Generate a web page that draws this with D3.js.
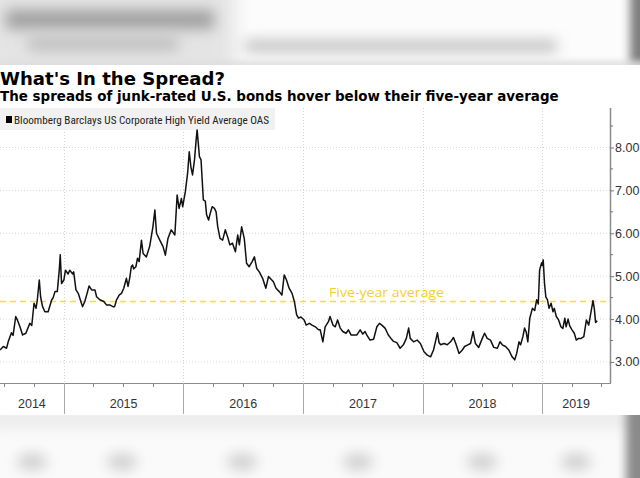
<!DOCTYPE html>
<html><head><meta charset="utf-8">
<script src="https://cdn.jsdelivr.net/npm/d3@7"></script>
<style>html,body{margin:0;padding:0;background:#fff;}svg{display:block;}</style>
</head><body>
<svg id="chart" width="640" height="478"></svg>
<script>
const dates = ["2014-06-20","2014-06-30","2014-07-10","2014-07-15","2014-07-25","2014-07-30","2014-08-07","2014-08-12","2014-08-20","2014-08-28","2014-09-07","2014-09-19","2014-09-25","2014-10-02","2014-10-08","2014-10-12","2014-10-18","2014-10-22","2014-10-28","2014-11-04","2014-11-14","2014-11-25","2014-11-29","2014-12-05","2014-12-12","2014-12-18","2014-12-21","2014-12-25",
"2015-01-01","2015-01-06","2015-01-14","2015-01-19","2015-01-28","2015-01-31","2015-02-07","2015-02-14","2015-02-19","2015-02-27","2015-03-06","2015-03-13","2015-03-19","2015-03-27","2015-04-06","2015-04-11","2015-04-21","2015-05-03","2015-05-11","2015-05-21","2015-05-31","2015-06-05","2015-06-11","2015-06-19","2015-06-26","2015-07-03","2015-07-11","2015-07-16","2015-07-21","2015-07-26","2015-07-30","2015-08-02","2015-08-09","2015-08-14","2015-08-19","2015-08-26","2015-08-31","2015-09-10","2015-09-20","2015-09-30","2015-10-06","2015-10-11","2015-10-21","2015-10-31","2015-11-07","2015-11-15","2015-11-25","2015-12-06","2015-12-13","2015-12-19","2015-12-26","2015-12-30",
"2016-01-07","2016-01-14","2016-01-19","2016-01-24","2016-01-29","2016-02-04","2016-02-09","2016-02-12","2016-02-16","2016-02-19","2016-02-24","2016-03-02","2016-03-08","2016-03-12","2016-03-18","2016-03-23","2016-03-29","2016-04-05","2016-04-10","2016-04-15","2016-04-22","2016-04-30","2016-05-08","2016-05-15","2016-05-22","2016-05-30","2016-06-08","2016-06-15","2016-06-20","2016-06-27","2016-07-05","2016-07-12","2016-07-20","2016-07-29","2016-08-05","2016-08-12","2016-08-20","2016-08-30","2016-09-09","2016-09-17","2016-09-25","2016-10-02","2016-10-10","2016-10-20","2016-10-28","2016-11-04","2016-11-11","2016-11-19","2016-11-28","2016-12-05","2016-12-12","2016-12-18","2016-12-25",
"2017-01-04","2017-01-10","2017-01-20","2017-01-28","2017-02-07","2017-02-17","2017-02-22","2017-03-02","2017-03-09","2017-03-19","2017-03-24","2017-04-02","2017-04-09","2017-04-16","2017-04-24","2017-05-02","2017-05-12","2017-05-19","2017-05-27","2017-06-04","2017-06-14","2017-06-24","2017-07-02","2017-07-09","2017-07-14","2017-07-24","2017-08-04","2017-08-14","2017-08-22","2017-08-29","2017-09-08","2017-09-18","2017-09-26","2017-10-04","2017-10-14","2017-10-24","2017-11-03","2017-11-12","2017-11-19","2017-11-24","2017-12-04","2017-12-15","2017-12-25",
"2018-01-05","2018-01-15","2018-01-25","2018-02-03","2018-02-10","2018-02-15","2018-02-20","2018-02-25","2018-03-07","2018-03-17","2018-03-27","2018-04-05","2018-04-12","2018-04-22","2018-05-02","2018-05-09","2018-05-19","2018-05-27","2018-06-04","2018-06-11","2018-06-21","2018-07-02","2018-07-09","2018-07-17","2018-07-27","2018-08-06","2018-08-17","2018-08-25","2018-09-01","2018-09-11","2018-09-21","2018-10-01","2018-10-09","2018-10-15","2018-10-22","2018-10-27","2018-11-03","2018-11-08","2018-11-13","2018-11-18","2018-11-24","2018-12-02","2018-12-09","2018-12-15","2018-12-20","2018-12-24","2018-12-30",
"2019-01-01","2019-01-04","2019-01-08","2019-01-12","2019-01-17","2019-01-22","2019-01-28","2019-02-03","2019-02-07","2019-02-13","2019-02-20","2019-02-27","2019-03-05","2019-03-11","2019-03-15","2019-03-21","2019-03-26","2019-04-02","2019-04-09","2019-04-15","2019-04-22","2019-04-30","2019-05-08","2019-05-16","2019-05-23","2019-05-30","2019-06-05","2019-06-09","2019-06-13","2019-06-18"];
const spreads = [3.28,3.36,3.32,3.47,3.68,3.62,4.06,3.98,3.82,3.63,3.67,3.90,3.85,4.37,4.25,4.45,4.91,4.52,4.29,4.17,4.17,4.45,4.49,4.64,4.64,5.14,5.50,4.83,
4.91,5.14,5.05,5.14,5.05,5.10,4.68,4.60,4.48,4.29,4.41,4.60,4.77,4.68,4.68,4.52,4.45,4.41,4.33,4.33,4.29,4.29,4.45,4.56,4.60,4.72,4.95,4.76,4.95,5.22,5.26,5.17,5.22,5.42,5.34,5.84,5.53,5.45,5.69,6.15,6.54,6.00,5.84,5.69,5.49,5.88,6.08,5.96,6.89,6.58,6.81,6.62,
6.97,7.40,7.90,7.55,7.36,7.71,8.17,8.41,8.06,7.79,7.71,6.78,6.75,6.43,6.31,6.46,6.62,6.58,6.50,6.15,5.88,5.84,6.08,5.92,5.73,5.77,5.57,5.96,5.73,6.15,5.88,5.30,5.22,5.34,5.45,5.18,5.10,4.95,4.72,4.99,4.93,4.87,4.72,4.64,4.56,5.03,4.91,4.72,4.60,4.41,4.10,4.02,4.05,
3.98,3.86,3.90,3.86,3.82,3.75,3.75,3.47,3.82,3.94,4.06,3.86,3.82,3.98,3.79,3.71,3.67,3.75,3.63,3.63,3.63,3.75,3.65,3.71,3.63,3.51,3.53,3.82,3.90,3.86,3.79,3.63,3.55,3.48,3.45,3.32,3.40,3.55,3.79,3.55,3.47,3.51,3.43,
3.24,3.16,3.12,3.28,3.51,3.68,3.45,3.40,3.43,3.40,3.47,3.57,3.43,3.20,3.28,3.36,3.40,3.43,3.71,3.43,3.34,3.55,3.67,3.55,3.51,3.34,3.32,3.47,3.40,3.36,3.28,3.12,3.05,3.20,3.47,3.40,3.59,3.79,3.70,3.47,4.02,4.25,4.20,4.45,4.35,5.14,5.31,
5.25,5.38,4.83,4.52,4.45,4.25,4.37,4.17,4.25,4.06,3.98,3.82,3.78,4.02,3.82,4.00,3.84,3.75,3.67,3.51,3.55,3.55,3.59,3.98,3.86,4.17,4.43,4.25,3.92,3.96];
const yearLabels = ["2014","2015","2016","2017","2018","2019"];
const yearStarts = ["2014-06-20","2015-01-01","2016-01-01","2017-01-01","2018-01-01","2019-01-01","2019-07-27"];
const yTicks = [3,4,5,6,7,8];
const fiveYearAvg = 4.41;
const titleText = "What's In the Spread?";
const subtitleText = "The spreads of junk-rated U.S. bonds hover below their five-year average";
const legendText = "Bloomberg Barclays US Corporate High Yield Average OAS";
const avgLabel = "Five-year average";

const parse = d3.timeParse("%Y-%m-%d");
const data = dates.map((d,i)=>({date:parse(d), v:spreads[i]}));

const svg = d3.select("#chart");
const W = 640, H = 478;
const plot = {left:0, right:610, top:108, bottom:383};

const x = d3.scaleTime().domain([parse("2014-06-20"), parse("2019-07-27")]).range([plot.left, plot.right]);
const y = d3.scaleLinear().domain([2.51, 8.92]).range([plot.bottom, plot.top]);

const defs = svg.append("defs");
[3,5,7,9].forEach(s=>{
  defs.append("filter").attr("id","blur"+s).attr("x","-50%").attr("y","-100%").attr("width","200%").attr("height","300%")
    .append("feGaussianBlur").attr("stdDeviation", s);
});
defs.append("clipPath").attr("id","topclip").append("rect").attr("x",0).attr("y",0).attr("width",W).attr("height",65);
defs.append("clipPath").attr("id","botclip").append("rect").attr("x",0).attr("y",415).attr("width",W).attr("height",H-415);
defs.append("clipPath").attr("id","plotclip").append("rect").attr("x",plot.left).attr("y",plot.top).attr("width",plot.right-plot.left).attr("height",plot.bottom-plot.top);

// blurred top band
const topG = svg.append("g").attr("clip-path","url(#topclip)");
topG.append("rect").attr("x",0).attr("y",0).attr("width",W).attr("height",65).attr("fill","#fcfcfc");
topG.append("rect").attr("x",-20).attr("y",-20).attr("width",255).attr("height",100).attr("fill","#e4e4e4").attr("filter","url(#blur9)");
topG.append("rect").attr("x",6).attr("y",10).attr("width",208).attr("height",19).attr("fill","#a0a0a0").attr("filter","url(#blur7)");
topG.append("rect").attr("x",28).attr("y",36).attr("width",150).attr("height",15).attr("fill","#c0c0c0").attr("filter","url(#blur7)");
topG.append("rect").attr("x",245).attr("y",40).attr("width",312).attr("height",12).attr("fill","#c0c0c0").attr("filter","url(#blur7)");
topG.append("rect").attr("x",630).attr("y",-20).attr("width",20).attr("height",110).attr("fill","#7e7e7e").attr("filter","url(#blur5)");
topG.append("rect").attr("x",-10).attr("y",61).attr("width",W+20).attr("height",8).attr("fill","#dedede").attr("filter","url(#blur3)");

// blurred bottom band
const botG = svg.append("g").attr("clip-path","url(#botclip)");
botG.append("rect").attr("x",0).attr("y",415).attr("width",W).attr("height",H-415).attr("fill","#fafafa");
botG.append("rect").attr("x",-10).attr("y",410).attr("width",W+20).attr("height",18).attr("fill","#ebebeb").attr("filter","url(#blur7)");
const botX = [32,122,242,358,482,576];
botG.selectAll("ellipse.blob").data(botX).join("ellipse").attr("class","blob")
  .attr("cx",d=>d).attr("cy",462).attr("rx",15).attr("ry",8).attr("fill","#cccccc").attr("filter","url(#blur7)");
botG.append("rect").attr("x",626).attr("y",400).attr("width",25).attr("height",100).attr("fill","#8a8a8a").attr("filter","url(#blur5)");

// gridlines
const gridG = svg.append("g");
gridG.selectAll("line.hg").data(yTicks).join("line").attr("class","hg")
  .attr("x1",plot.left).attr("x2",plot.right).attr("y1",d=>y(d)).attr("y2",d=>y(d))
  .attr("stroke","#d6d6d6").attr("stroke-width",1).attr("stroke-dasharray","1,2");
const yearDates = yearStarts.map(parse);
gridG.selectAll("line.vg").data(yearDates.slice(1,6)).join("line").attr("class","vg")
  .attr("x1",d=>Math.round(x(d))+0.5).attr("x2",d=>Math.round(x(d))+0.5).attr("y1",plot.top).attr("y2",plot.bottom)
  .attr("stroke","#d6d6d6").attr("stroke-width",1).attr("stroke-dasharray","1,2");

// legend
svg.append("rect").attr("x",0).attr("y",108).attr("width",275).attr("height",22).attr("fill","#f1f1f1");
svg.append("rect").attr("x",6).attr("y",116).attr("width",6).attr("height",7).attr("fill","#000");
svg.append("text").attr("x",14).attr("y",123.5).text(legendText)
  .attr("font-family","'Liberation Sans Narrow','Roboto Condensed','Liberation Sans',sans-serif").attr("font-size",11.5)
  .attr("fill","#222").attr("textLength",255).attr("lengthAdjust","spacingAndGlyphs");

// five-year average
svg.append("line").attr("x1",plot.left).attr("x2",plot.right).attr("y1",y(fiveYearAvg)).attr("y2",y(fiveYearAvg))
  .attr("stroke","#f7e21d").attr("stroke-width",1.6).attr("stroke-dasharray","6,4");
svg.append("text").attr("x",329).attr("y",y(fiveYearAvg)-4.5).text(avgLabel)
  .attr("font-family","'Open Sans','Liberation Sans',sans-serif").attr("font-size",13)
  .attr("fill","#f5d02a").attr("textLength",115).attr("lengthAdjust","spacingAndGlyphs");

// series line
const line = d3.line().x(d=>x(d.date)).y(d=>y(d.v));
svg.append("path").datum(data).attr("clip-path","url(#plotclip)").attr("d",line)
  .attr("fill","none").attr("stroke","#111").attr("stroke-width",1.5).attr("stroke-linejoin","round");

// right y axis
const yAxisG = svg.append("g").attr("transform",`translate(${plot.right},0)`);
yAxisG.append("line").attr("x1",0.5).attr("x2",0.5).attr("y1",plot.top).attr("y2",plot.bottom).attr("stroke","#8c8c8c").attr("stroke-width",1.5);
const yAxis = d3.axisRight(y).tickValues(yTicks).tickSize(4).tickPadding(1).tickFormat(d3.format(".2f"));
const ya = yAxisG.append("g").call(yAxis);
ya.select(".domain").remove();
ya.selectAll(".tick line").attr("stroke","#777");
ya.selectAll(".tick text").attr("font-family","'Liberation Sans',Arial,sans-serif").attr("font-size",12.5).attr("fill","#333");
const minorY = d3.range(3.5, 9, 1);
yAxisG.selectAll("line.my").data(minorY).join("line").attr("class","my")
  .attr("x1",0).attr("x2",3).attr("y1",d=>y(d)).attr("y2",d=>y(d)).attr("stroke","#777");

// bottom x axis
const xAxisG = svg.append("g");
xAxisG.append("line").attr("x1",plot.left).attr("x2",plot.right+1).attr("y1",plot.bottom+0.5).attr("y2",plot.bottom+0.5).attr("stroke","#8c8c8c").attr("stroke-width",1);
const quarters = d3.timeMonth.every(3).range(parse("2014-06-20"), parse("2019-07-27"));
xAxisG.selectAll("line.qt").data(quarters.filter(d=>d.getMonth()!==0)).join("line").attr("class","qt")
  .attr("x1",d=>Math.round(x(d))+0.5).attr("x2",d=>Math.round(x(d))+0.5).attr("y1",plot.bottom).attr("y2",plot.bottom+4)
  .attr("stroke","#888");
xAxisG.selectAll("line.yt").data(yearDates.slice(1,6)).join("line").attr("class","yt")
  .attr("x1",d=>Math.round(x(d))+0.5).attr("x2",d=>Math.round(x(d))+0.5).attr("y1",plot.bottom).attr("y2",414)
  .attr("stroke","#aaa");
xAxisG.selectAll("text.yl").data(yearLabels).join("text").attr("class","yl")
  .attr("x",(d,i)=>(x(yearDates[i])+x(yearDates[i+1]))/2).attr("y",408)
  .attr("text-anchor","middle").text(d=>d)
  .attr("font-family","'Liberation Sans',Arial,sans-serif").attr("font-size",12.5).attr("fill","#333");

// titles
function fit(sel, target){
  const w = sel.node().getComputedTextLength();
  const fs = parseFloat(sel.attr("font-size"));
  sel.attr("font-size", fs*target/w);
}
const t1 = svg.append("text").attr("x",0).attr("y",85).text(titleText)
  .attr("font-family","'DejaVu Sans',Verdana,sans-serif").attr("font-weight","bold").attr("font-size",20).attr("fill","#000");
fit(t1, 225);
const t2 = svg.append("text").attr("x",0).attr("y",101).text(subtitleText)
  .attr("font-family","'DejaVu Sans',Verdana,sans-serif").attr("font-weight","bold").attr("font-size",14).attr("fill","#000");
fit(t2, 559);
</script>
</body></html>
